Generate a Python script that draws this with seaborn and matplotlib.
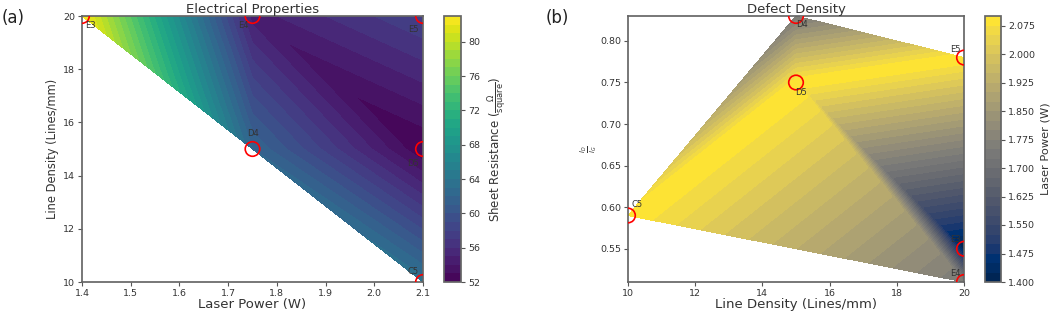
import matplotlib; matplotlib.use('Agg')
import numpy as np
import pandas as pd
import seaborn as sns
import matplotlib.pyplot as plt
import matplotlib.tri as mtri

# Panel (a): electrical properties
a_labels = ['E3', 'E4', 'E5', 'D4', 'D5', 'C5']
a_power = [1.4, 1.75, 2.1, 1.75, 2.1, 2.1]
a_density = [20, 20, 20, 15, 15, 10]
a_resistance = [83, 54.5, 58, 62, 52, 63.5]
a_triangles = [[0, 1, 3], [1, 3, 4], [1, 4, 2], [3, 4, 5]]
a_levels = np.arange(52, 84, 1)
# label offsets in pixels (dx, dy)
a_offsets = {'E3': (8, -9), 'E4': (-9, -9), 'E5': (-10, -13), 'D4': (0, 15), 'D5': (-10, -14), 'C5': (-10, 10)}

# Panel (b): defect density
b_labels = ['C5', 'D4', 'D5', 'E5', 'E3', 'E4']
b_density = [10, 15, 15, 20, 20, 20]
b_ratio = [0.59, 0.83, 0.75, 0.78, 0.55, 0.51]
b_power = [2.1, 1.75, 2.1, 2.1, 1.4, 1.75]
b_triangles = [[0, 1, 2], [0, 2, 5], [1, 2, 3], [2, 3, 4], [2, 4, 5]]
b_levels = np.linspace(1.4, 2.1, 29)
b_offsets = {'C5': (9, 11), 'D4': (6, -9), 'D5': (5, -10), 'E5': (-9, 8), 'E3': (-9, 9), 'E4': (-9, 8)}

sns.set_theme(style='ticks')
plt.rcParams['font.family'] = ['DejaVu Sans']
text_c = '#333333'
plt.rcParams.update({'axes.edgecolor': '#666666', 'xtick.color': '#555555', 'ytick.color': '#555555',
                     'xtick.labelcolor': text_c, 'ytick.labelcolor': text_c,
                     'xtick.major.size': 3, 'ytick.major.size': 3,
                     'xtick.major.width': 0.8, 'ytick.major.width': 0.8,
                     'xtick.major.pad': 2, 'ytick.major.pad': 2})

W, H = 1059, 313
fig = plt.figure(figsize=(W / 100, H / 100), dpi=100)

def box(l, r, t, b):
    return [l / W, 1 - b / H, (r - l) / W, (b - t) / H]

def panel(ax, cax, x, y, z, tris, labels, levels, cmap, offsets):
    tri = mtri.Triangulation(x, y, tris)
    cs = ax.tricontourf(tri, z, levels=levels, cmap=cmap)
    df = pd.DataFrame({'x': x, 'y': y})
    sns.scatterplot(data=df, x='x', y='y', ax=ax, s=110, marker='o', facecolors='none',
                    edgecolor='red', linewidth=1.2, legend=False, zorder=5)
    for lab, xi, yi in zip(labels, x, y):
        dx, dy = offsets[lab]
        ax.annotate(lab, (xi, yi), xytext=(dx, dy), textcoords='offset pixels',
                    ha='center', va='center', fontsize=6, color=text_c, zorder=6)
    cb = fig.colorbar(cs, cax=cax)
    cb.outline.set_edgecolor('#666666')
    cb.ax.tick_params(labelsize=6.8, length=3)
    ax.tick_params(labelsize=6.8)
    return cb

ax1 = fig.add_axes(box(82, 423, 16, 282))
cax1 = fig.add_axes(box(444, 461, 16, 282))
cb1 = panel(ax1, cax1, a_power, a_density, a_resistance, a_triangles, a_labels, a_levels,
            sns.color_palette('viridis', as_cmap=True), a_offsets)
ax1.set_xlim(1.4, 2.1)
ax1.set_ylim(10, 20)
ax1.set_xticks([1.4, 1.5, 1.6, 1.7, 1.8, 1.9, 2.0, 2.1])
ax1.set_xlabel('Laser Power (W)', fontsize=9.5, color=text_c, labelpad=0)
ax1.set_ylabel('Line Density (Lines/mm)', fontsize=8.3, color=text_c, labelpad=3)
ax1.set_title('Electrical Properties', fontsize=9.5, color=text_c, pad=2)
cb1.set_label(r'Sheet Resistance ($\frac{\Omega}{\mathrm{square}}$)', fontsize=8.5, color=text_c)

ax2 = fig.add_axes(box(628, 964, 16, 282))
cax2 = fig.add_axes(box(985, 1001, 16, 282))
cb2 = panel(ax2, cax2, b_density, b_ratio, b_power, b_triangles, b_labels, b_levels,
            sns.color_palette('cividis', as_cmap=True), b_offsets)
ax2.set_xlim(10, 20)
ax2.set_ylim(0.51, 0.83)
ax2.set_xticks([10, 12, 14, 16, 18, 20])
ax2.set_xlabel('Line Density (Lines/mm)', fontsize=9.5, color=text_c, labelpad=0)
ax2.set_ylabel(r'$\frac{I_D}{I_G}$', fontsize=7, color=text_c, labelpad=1)
ax2.set_title('Defect Density', fontsize=9.5, color=text_c, pad=2)
cb2.set_label('Laser Power (W)', fontsize=8.2, color=text_c)
cb2.ax.yaxis.set_major_formatter(matplotlib.ticker.FormatStrFormatter('%.3f'))

fig.text(2 / W, 1 - 18 / H, '(a)', fontsize=12, color='#222222', va='center', ha='left')
fig.text(546 / W, 1 - 18 / H, '(b)', fontsize=12, color='#222222', va='center', ha='left')

fig.savefig('out.png', dpi=100)
